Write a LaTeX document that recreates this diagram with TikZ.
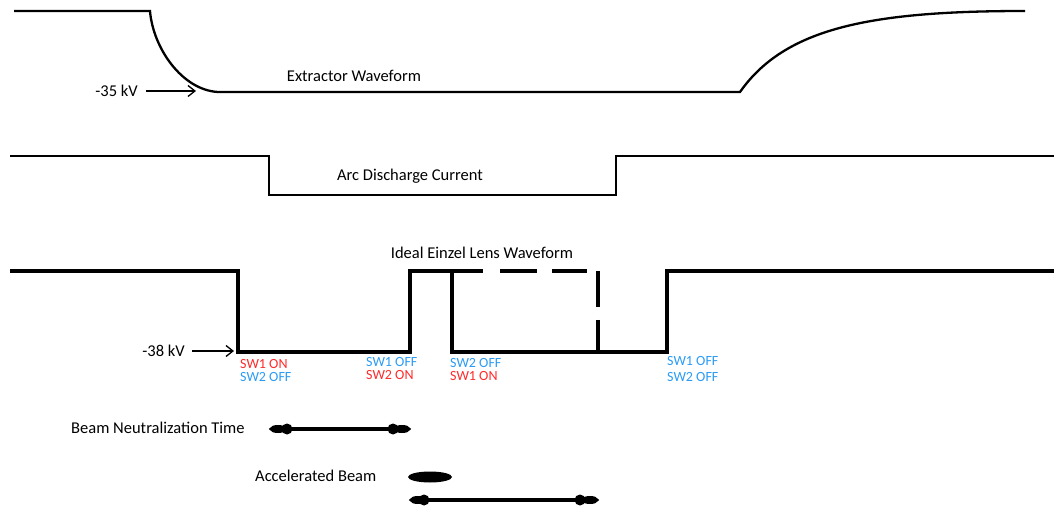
\documentclass[tikz,border=0pt]{standalone}
\usepackage{fontspec}
\setmainfont{Carlito}
\usetikzlibrary{arrows.meta,positioning,calc,shapes.geometric}
\definecolor{Ink}{HTML}{000000}
\definecolor{OnRed}{HTML}{FF2A2A}
\definecolor{OffBlue}{HTML}{2A9BF5}
\tikzset{
  wave/.style={draw=Ink,line width=2.3pt,line join=miter},
  lenswave/.style={draw=Ink,line width=4pt,line join=miter},
  title/.style={font=\fontsize{16.5}{19}\selectfont,text=Ink,inner sep=0pt},
  level/.style={font=\fontsize{16.5}{19}\selectfont,text=Ink,inner sep=0pt,anchor=east},
  pointer/.style={-{Straight Barb[length=7pt,width=11pt]},draw=Ink,line width=1.3pt},
  swlabel/.style={font=\fontsize{14}{15}\selectfont,inner sep=0pt,anchor=north west,align=left},
  span/.style={draw=Ink,line width=4pt,{Ellipse[length=16pt,width=8pt]}-{Ellipse[length=16pt,width=8pt]}},
  blob/.style={circle,fill=Ink,inner sep=0pt,minimum size=11pt},
  spindle/.style={ellipse,fill=Ink,inner sep=0pt,minimum width=44pt,minimum height=11pt}
}
\begin{document}
\begin{tikzpicture}[x=1pt,y=-1pt]
  \useasboundingbox (0,0) rectangle (1054,510);
  \draw[wave] (14,11) -- (150,11) .. controls (153,48) and (182,90) .. (218,92) -- (740,92)
    .. controls (785,28) and (870,11) .. (1025,11);
  \node[title] (extractor) at (354,76) {Extractor Waveform};
  \node[level] (kv35) at (138,91) {-35 kV};
  \coordinate (kv35tip) at (196,91);
  \draw[pointer] ([xshift=8pt]kv35.east) -- (kv35tip);

  \draw[wave] (10,156) -- (269,156) -- (269,195) -- (616,195) -- (616,156) -- (1054,156);
  \node[title] (arc) at (410,176) {Arc Discharge Current};

  \node[title] (einzel) at (482,253) {Ideal Einzel Lens Waveform};
  \draw[lenswave] (10,271) -- (238,271) -- (238,352) -- (410,352) -- (410,271) -- (483,271);
  \draw[lenswave] (452,271) -- (452,352) -- (667,352) -- (667,271) -- (1054,271);
  \draw[lenswave] (500,271) -- (537,271);
  \draw[lenswave] (552,271) -- (587,271);
  \draw[lenswave] (598,271) -- (598,307);
  \draw[lenswave] (598,320) -- (598,352);
  \node[level] (kv38) at (185,351) {-38 kV};
  \coordinate (kv38tip) at (234,351);
  \draw[pointer] ([xshift=7pt]kv38.east) -- (kv38tip);

  \node[swlabel] (sw1on) at (240,359) {\textcolor{OnRed}{SW1 ON}\\[-2pt]\textcolor{OffBlue}{SW2 OFF}};
  \node[swlabel] (sw1off) at (366,357) {\textcolor{OffBlue}{SW1 OFF}\\[-2pt]\textcolor{OnRed}{SW2 ON}};
  \node[swlabel] (sw2off) at (450,358) {\textcolor{OffBlue}{SW2 OFF}\\[-2pt]\textcolor{OnRed}{SW1 ON}};
  \node[swlabel] (alloff) at (667,356) {\textcolor{OffBlue}{SW1 OFF}\\[1pt]\textcolor{OffBlue}{SW2 OFF}};

  \node[title,anchor=west] (neutral) at (71,428) {Beam Neutralization Time};
  \coordinate (n1) at (270,429);
  \coordinate (n2) at (410,429);
  \draw[span] (n1) -- (n2);
  \node[blob] at (287,429) {};
  \node[blob] at (393,429) {};

  \node[title,anchor=west] (accel) at (255,476) {Accelerated Beam};
  \node[spindle] (accbar) at (430,477) {};

  \coordinate (b1) at (410,500);
  \coordinate (b2) at (598,500);
  \draw[span] (b1) -- (b2);
  \node[blob] at (424,500) {};
  \node[blob] at (580,500) {};
\end{tikzpicture}
\end{document}
